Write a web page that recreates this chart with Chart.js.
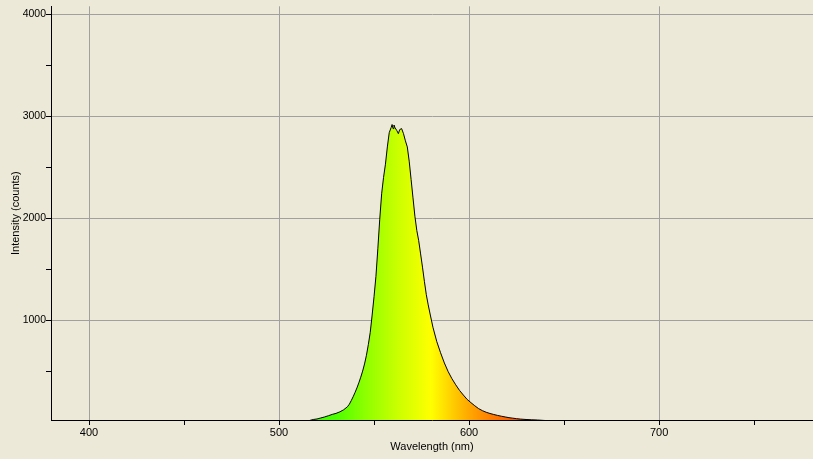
<!DOCTYPE html>
<html>
<head>
<meta charset="utf-8">
<script src="https://cdn.jsdelivr.net/npm/chart.js@4/dist/chart.umd.min.js"></script>
<style>
body{margin:0;background:#ECE9D8;}
#wrap{width:813px;height:459px;}
</style>
</head>
<body>
<div id="wrap"><canvas id="spectrum" width="813" height="459"></canvas></div>
<script>

// spectrum (nm, counts)
let wavelengths = [515,518,520,522,524,526,528,530,532,534,536,537,538,539,540,541,542,543,544,545,546,547,548,549,550,551,552,553,554,555,556,557,558,559,559.5,560,560.5,561,562,562.8,563.5,564.5,565.5,566.5,567.5,568.5,569.5,570.5,571.5,572.5,573.5,574.5,575.5,576.5,577.5,578.5,579.5,581,583,585,587,589,591,593,595,597,599,601,603,605,607,609,611,613,615,617,619,621,623,625,627,630,633,636,640];
let counts = [10,25,30,40,50,62,75,85,100,120,150,175,210,248,290,335,385,440,500,570,655,760,880,1050,1230,1430,1700,1990,2240,2400,2530,2700,2840,2890,2920,2880,2915,2890,2860,2830,2870,2880,2830,2760,2700,2560,2380,2200,2020,1880,1780,1650,1520,1380,1250,1150,1060,930,790,680,580,495,425,365,310,265,222,190,160,132,112,96,84,74,65,57,50,43,38,33,29,25,22,20,15];

// tick positions; only the labelled ones get a grid line
let xTicks = [400,450,500,550,600,650,700,750];
let xLabels = [400,500,600,700];
let yTicks = [500,1000,1500,2000,2500,3000,3500,4000];
let yLabels = [1000,2000,3000,4000];

let xTitle = "Wavelength (nm)";
let yTitle = "Intensity (counts)";

// colour of the fill along the wavelength axis
let colourNm = [515,530,545,563,580,598,613,630];
let colourHex = ["#3cff00","#4cff00","#8cff00","#ccff00","#ffff00","#ffb000","#ff7800","#ff4400"];

let bg = "#ECE9D8";

Chart.defaults.font.family = "'Liberation Sans', Arial, sans-serif";
Chart.defaults.font.size = 11;
Chart.defaults.color = "#000";

let points = wavelengths.map((w,i)=>({x:w,y:counts[i]}));

function spectrumFill(context){
let chart = context.chart;
let area = chart.chartArea;
if(!area) return null;
let x = chart.scales.x;
let g = chart.ctx.createLinearGradient(area.left,0,area.right,0);
let w = area.right-area.left;
colourNm.forEach((nm,i)=>{
let p = (x.getPixelForValue(nm)-area.left)/w;
g.addColorStop(Math.min(1,Math.max(0,p)),colourHex[i]);
});
return g;
}

function gridColour(labels){
return c=>c.tick && labels.includes(c.tick.value) ? "#a0a0a0" : "rgba(0,0,0,0)";
}

let bgPlugin = {
id:"bg",
beforeDraw(chart){
let c = chart.ctx;
c.save();
c.fillStyle = bg;
c.fillRect(0,0,chart.width,chart.height);
c.restore();
}
};

new Chart(document.getElementById("spectrum"),{
type:"scatter",
data:{
datasets:[{
data:points,
showLine:true,
borderColor:"#000",
borderWidth:1,
pointRadius:0,
tension:0,
fill:"start",
backgroundColor:spectrumFill
}]
},
options:{
responsive:false,
animation:false,
layout:{padding:{top:2,right:0,left:0,bottom:0}},
plugins:{legend:{display:false},tooltip:{enabled:false}},
scales:{
x:{
type:"linear",
min:380,
max:781,
afterBuildTicks(s){ s.ticks = xTicks.map(v=>({value:v})); },
afterFit(s){ s.height = 39; },
border:{display:true,color:"#000",width:1},
grid:{
color:gridColour(xLabels),
tickColor:"#000",
tickLength:5
},
ticks:{
autoSkip:false,
maxRotation:0,
padding:1,
callback:v=>xLabels.includes(v) ? String(v) : ""
},
title:{display:true,text:xTitle,padding:{top:0,bottom:5}}
},
y:{
type:"linear",
min:20,
max:4080,
afterBuildTicks(s){ s.ticks = yTicks.map(v=>({value:v})); },
afterFit(s){ s.width = 51; },
border:{display:true,color:"#000",width:1},
grid:{
color:gridColour(yLabels),
tickColor:"#000",
tickLength:5
},
ticks:{
autoSkip:false,
padding:0,
font:{size:10.5},
callback:v=>yLabels.includes(v) ? String(v) : ""
},
title:{display:true,text:yTitle,padding:{top:9,bottom:0}}
}
}
},
plugins:[bgPlugin]
});

</script>
</body>
</html>
